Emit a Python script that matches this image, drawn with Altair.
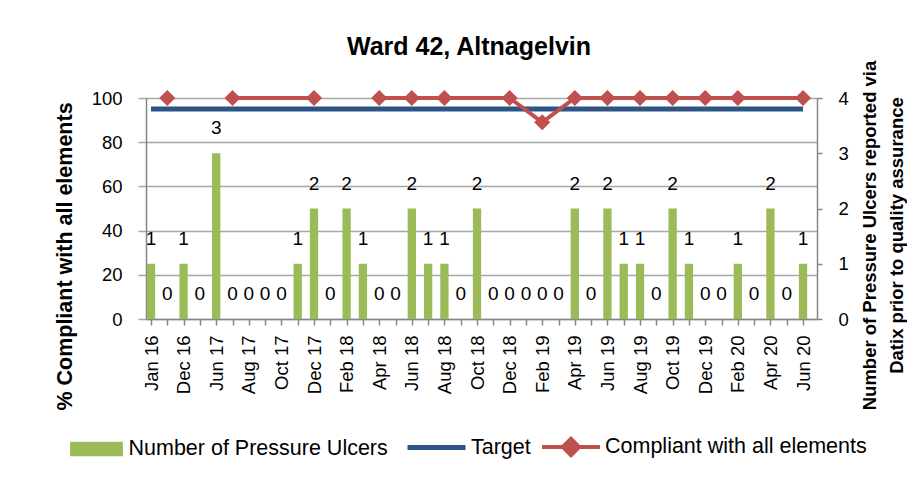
import json
import altair as alt
import pandas as pd

FONT = "Liberation Sans"

categories = [
    "Jan 16", "Jun 16", "Dec 16", "Mar 17", "Jun 17", "Jul 17", "Aug 17", "Sep 17",
    "Oct 17", "Nov 17", "Dec 17", "Jan 18", "Feb 18", "Mar 18", "Apr 18", "May 18",
    "Jun 18", "Jul 18", "Aug 18", "Sep 18", "Oct 18", "Nov 18", "Dec 18", "Jan 19",
    "Feb 19", "Mar 19", "Apr 19", "May 19", "Jun 19", "Jul 19", "Aug 19", "Sep 19",
    "Oct 19", "Nov 19", "Dec 19", "Jan 20", "Feb 20", "Mar 20", "Apr 20", "May 20",
    "Jun 20",
]
ulcers = [1, 0, 1, 0, 3, 0, 0, 0, 0, 1, 2, 0, 2, 1, 0, 0, 2, 1, 1, 0, 2,
          0, 0, 0, 0, 0, 2, 0, 2, 1, 1, 0, 2, 1, 0, 0, 1, 0, 2, 0, 1]
target_value = 95
compliance_cat = ["Jun 16", "Jul 17", "Dec 17", "Apr 18", "Jun 18", "Aug 18", "Dec 18",
                  "Feb 19", "Apr 19", "Jun 19", "Aug 19", "Oct 19", "Dec 19", "Feb 20", "Jun 20"]
compliance_pct = [100, 100, 100, 100, 100, 100, 100, 89, 100, 100, 100, 100, 100, 100, 100]
compliance_run = [1, 2, 2, 3, 3, 3, 3, 3, 3, 3, 3, 3, 3, 3, 3]

S_BARS = "Number of Pressure Ulcers"
S_TARGET = "Target"
S_COMP = "Compliant with all elements"

GREEN = "#9BBB59"
BLUE = "#2C5486"
RED = "#C0504D"
GRID = "#A6A6A6"
AXIS = "#868686"

df_bars = pd.DataFrame({"idx": list(range(len(categories))), "cat": categories,
                        "ulcers": ulcers, "series": S_BARS})
df_target = pd.DataFrame({"idx": list(range(len(categories))),
                          "target": [target_value] * len(categories), "series": S_TARGET})
df_comp = pd.DataFrame({"idx": [categories.index(c) for c in compliance_cat],
                        "pct": compliance_pct, "run": compliance_run, "series": S_COMP})

label_expr = "datum.value % 2 == 0 ? " + json.dumps(categories) + "[datum.value] : ''"

x_enc = alt.X(
    "idx:Q",
    scale=alt.Scale(domain=[0, 40.55], nice=False, zero=False),
    axis=alt.Axis(
        values=list(range(len(categories))), labelExpr=label_expr, labelAngle=270,
        labelFontSize=18.5, labelFont=FONT, labelColor="black", labelPadding=10,
        labelOverlap=False, labelFlush=False, labelBound=False,
        tickSize=6, tickColor=AXIS, tickWidth=1.5, domainColor=AXIS, domainWidth=1.5,
        grid=False, title=None,
    ),
)

pct_scale = alt.Scale(domain=[0, 100], nice=False, zero=True)
cnt_scale = alt.Scale(domain=[0, 4], nice=False, zero=True)

legend_common = dict(title=None, orient="none", padding=0,
                     labelFontSize=21.5, labelFont=FONT, labelColor="black",
                     labelOffset=3, labelLimit=500, symbolSize=3364)

bars = alt.Chart(df_bars).mark_bar(size=8.3, clip=True).encode(
    x=x_enc,
    y=alt.Y("ulcers:Q", scale=cnt_scale, axis=alt.Axis(
        orient="right", values=[0, 1, 2, 3, 4], grid=False, tickSize=5, tickColor=AXIS,
        tickWidth=1.5, domainColor=AXIS, domainWidth=1.5, labelFontSize=18.5,
        labelFont=FONT, labelColor="black", labelPadding=16,
        title=["Number of Pressure Ulcers reported via", "Datix prior to quality assurance"],
        titleFont=FONT, titleFontSize=18.5, titleFontWeight="bold", titleColor="black",
        titleAngle=270, titleAlign="center", titleBaseline="alphabetic",
        titleX=58, titleY=137, titleLineHeight=27,
    )),
    color=alt.Color("series:N", scale=alt.Scale(domain=[S_BARS], range=[GREEN]),
                    legend=alt.Legend(legendX=-78.5, legendY=322,
                                      symbolType="M-0.91,-0.25H0.91V0.25H-0.91Z",
                                      symbolStrokeWidth=0, **legend_common)),
)

labels = alt.Chart(df_bars).mark_text(dy=-25, baseline="middle", align="center",
                                      fontSize=19, font=FONT, color="black").encode(
    x=x_enc,
    y=alt.Y("ulcers:Q", scale=cnt_scale, axis=None),
    text=alt.Text("ulcers:Q"),
)

target = alt.Chart(df_target).mark_line(strokeWidth=5).encode(
    x=x_enc,
    y=alt.Y("target:Q", scale=pct_scale, axis=alt.Axis(
        orient="left", values=[0, 20, 40, 60, 80, 100], grid=True, gridColor=GRID,
        gridWidth=1.5, tickSize=8, tickColor=GRID, tickWidth=1.5, domainColor=AXIS,
        domainWidth=1.5, labelFontSize=18.5, labelFont=FONT, labelColor="black",
        labelPadding=16, title="% Compliant with all elements", titleFont=FONT,
        titleFontSize=21.5, titleFontWeight="bold", titleColor="black", titleAngle=270,
        titleAlign="center", titleBaseline="alphabetic", titleX=-75, titleY=158,
    )),
    color=alt.Color("series:N", scale=alt.Scale(domain=[S_TARGET], range=[BLUE]),
                    legend=alt.Legend(legendX=259, legendY=318, symbolType="stroke",
                                      symbolStrokeWidth=5, **legend_common)),
)

comp_line = alt.Chart(df_comp).mark_line(strokeWidth=4).encode(
    x=x_enc,
    y=alt.Y("pct:Q", scale=pct_scale, axis=None),
    detail="run:N",
    color=alt.Color("series:N", scale=alt.Scale(domain=[S_COMP], range=[RED]),
                    legend=alt.Legend(legendX=394, legendY=318,
                                      symbolType="M-1,0H1M-0.28,0L0,-0.28L0.28,0L0,0.28Z",
                                      symbolStrokeWidth=4, symbolFillColor=RED,
                                      **legend_common)),
)

comp_pts = alt.Chart(df_comp).mark_point(shape="diamond", size=260, filled=True,
                                         opacity=1, color=RED).encode(
    x=x_enc,
    y=alt.Y("pct:Q", scale=pct_scale, axis=None),
)

chart = alt.layer(bars, labels, target, comp_line, comp_pts).resolve_scale(
    y="independent", color="independent"
).properties(
    width=671, height=221,
    padding={"left": 138, "top": 90, "right": 90, "bottom": 154},
    autosize=alt.AutoSizeParams(type="none"),
    title=alt.Title("Ward 42, Altnagelvin", font=FONT, fontSize=25, fontWeight="bold",
                    color="black", offset=0, dx=-12.5, anchor="middle"),
).configure_view(stroke=None).configure(font=FONT)

chart.save("out.html", embed_options={"renderer": "svg", "actions": False})
